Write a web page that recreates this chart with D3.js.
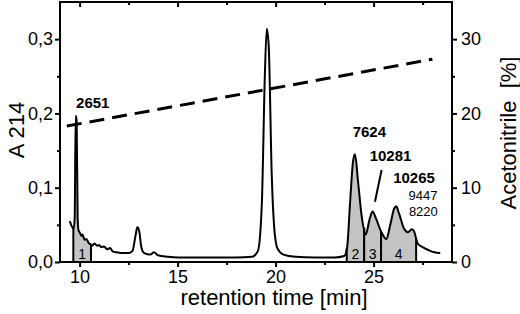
<html>
<head>
<meta charset="UTF-8">
<script src="https://d3js.org/d3.v7.min.js"></script>
<style>
  body { margin: 0; background: #fff; }
  text { font-family: "Liberation Sans", Arial, sans-serif; }
</style>
</head>
<body>
<svg id="chart" width="520" height="314"></svg>
<script>
// chromatogram trace (retention time in min, absorbance at 214 nm)
const traceTime = [9.5, 9.6, 9.7, 9.75, 9.8, 9.85, 9.9, 9.95, 10.0, 10.1, 10.15, 10.25, 10.35, 10.45, 10.55, 10.65, 10.75, 10.9, 11.0, 11.1, 11.25, 11.4, 11.55, 11.7, 11.9, 12.2, 12.5, 12.7, 12.85, 12.95, 13.05, 13.15, 13.3, 13.6, 13.8, 14.0, 14.5, 15, 16, 17, 18, 18.8, 19.1, 19.3, 19.45, 19.55, 19.65, 19.8, 19.95, 20.1, 20.4, 21, 22, 23, 23.5, 23.65, 23.8, 23.95, 24.05, 24.2, 24.4, 24.6, 24.8, 24.95, 25.1, 25.4, 25.65, 25.85, 26.05, 26.15, 26.3, 26.55, 26.75, 26.95, 27.05, 27.25, 27.5, 27.8, 28.1, 28.4];
const traceAbs = [0.055, 0.048, 0.045, 0.06, 0.197, 0.19, 0.06, 0.042, 0.04, 0.035, 0.037, 0.03, 0.031, 0.026, 0.024, 0.022, 0.025, 0.022, 0.023, 0.02, 0.021, 0.017, 0.019, 0.014, 0.013, 0.012, 0.012, 0.015, 0.035, 0.047, 0.04, 0.02, 0.012, 0.01, 0.013, 0.009, 0.007, 0.006, 0.006, 0.006, 0.006, 0.007, 0.015, 0.08, 0.25, 0.314, 0.29, 0.12, 0.04, 0.018, 0.01, 0.007, 0.006, 0.006, 0.008, 0.02, 0.08, 0.135, 0.145, 0.11, 0.06, 0.037, 0.058, 0.068, 0.06, 0.04, 0.031, 0.05, 0.072, 0.075, 0.065, 0.045, 0.04, 0.044, 0.042, 0.025, 0.02, 0.016, 0.013, 0.012];

// acetonitrile gradient (%)
const gradTime = [9.35, 28];
const gradPct = [18.3, 27.3];

// collected fractions
const fracStart = [9.68, 23.63, 24.52, 25.38];
const fracEnd = [10.58, 24.52, 25.38, 27.17];
const fracLabel = ["1", "2", "3", "4"];

// mass annotations (anchored at retention time / absorbance)
const massText = ["2651", "7624", "10281", "10265", "9447", "8220"];
const massTime = [9.82, 23.93, 24.8, 26.0, 26.78, 26.8];
const massAbs = [0.207, 0.168, 0.136, 0.106, 0.083, 0.062];
const massBold = [true, true, true, true, false, false];

const xTicks = [10, 15, 20, 25];
const xMinor = [12.5, 17.5, 22.5, 27.5];
const yTicks = [0, 0.1, 0.2, 0.3];
const yMinor = [0.05, 0.15, 0.25];
const rTicks = [0, 10, 20, 30];
const rMinor = [5, 15, 25];

const svg = d3.select("#chart");
const m = {left: 60, right: 452, top: 2, bottom: 262};

const x = d3.scaleLinear().domain([9, 29]).range([m.left, m.right]);
const y = d3.scaleLinear().domain([0, 0.35]).range([m.bottom, m.top]);
const yR = d3.scaleLinear().domain([0, 35]).range([m.bottom, m.top]);

const trace = traceTime.map((t, i) => ({t: t, a: traceAbs[i]}));

function absAt(t) {
  for (let i = 1; i < trace.length; i++) {
    if (trace[i].t >= t) {
      const p = trace[i - 1], q = trace[i];
      return p.a + (q.a - p.a) * (t - p.t) / (q.t - p.t);
    }
  }
  return trace[trace.length - 1].a;
}

// shaded fractions
fracStart.forEach((s, i) => {
  const e = fracEnd[i];
  const pts = [{t: s, a: absAt(s)}]
    .concat(trace.filter(d => d.t > s && d.t < e))
    .concat([{t: e, a: absAt(e)}]);
  svg.append("path")
     .datum(pts)
     .attr("fill", "#c4c4c4")
     .attr("d", d3.area().x(d => x(d.t)).y0(y(0)).y1(d => y(d.a)));
  [s, e].forEach(b => {
    svg.append("line")
       .attr("x1", x(b)).attr("x2", x(b))
       .attr("y1", y(0)).attr("y2", y(absAt(b)))
       .attr("stroke", "#000").attr("stroke-width", 2);
  });
  svg.append("text")
     .attr("x", x((s + e) / 2)).attr("y", 259)
     .attr("text-anchor", "middle")
     .attr("font-size", 14)
     .text(fracLabel[i]);
});

// trace line
svg.append("path")
   .datum(trace)
   .attr("fill", "none")
   .attr("stroke", "#000")
   .attr("stroke-width", 2)
   .attr("stroke-linejoin", "round")
   .attr("d", d3.line().x(d => x(d.t)).y(d => y(d.a)).curve(d3.curveMonotoneX));

// gradient line
svg.append("path")
   .datum(gradTime.map((t, i) => [t, gradPct[i]]))
   .attr("fill", "none")
   .attr("stroke", "#000")
   .attr("stroke-width", 3)
   .attr("stroke-dasharray", "15,8")
   .attr("d", d3.line().x(d => x(d[0])).y(d => yR(d[1])));

// frame
svg.append("rect")
   .attr("x", m.left).attr("y", m.top)
   .attr("width", m.right - m.left).attr("height", m.bottom - m.top)
   .attr("fill", "none").attr("stroke", "#000").attr("stroke-width", 2);

const comma = d => d3.format(".1f")(d).replace(".", ",");

function styleAxis(g) {
  g.select(".domain").remove();
  g.selectAll(".tick line").attr("stroke-width", 2);
  g.selectAll(".tick text").attr("font-size", 18).attr("font-family", "Liberation Sans, Arial, sans-serif");
}

svg.append("g").attr("transform", `translate(${m.left},0)`)
   .call(d3.axisLeft(y).tickValues(yTicks).tickFormat(comma).tickSize(5).tickPadding(2))
   .call(styleAxis);
svg.append("g").attr("transform", `translate(${m.left},0)`)
   .call(d3.axisLeft(y).tickValues(yMinor).tickFormat("").tickSize(3))
   .call(styleAxis);

svg.append("g").attr("transform", `translate(${m.right},0)`)
   .call(d3.axisRight(yR).tickValues(rTicks).tickSize(5).tickPadding(4))
   .call(styleAxis);
svg.append("g").attr("transform", `translate(${m.right},0)`)
   .call(d3.axisRight(yR).tickValues(rMinor).tickFormat("").tickSize(3))
   .call(styleAxis);

svg.append("g").attr("transform", `translate(0,${m.bottom})`)
   .call(d3.axisBottom(x).tickValues(xTicks).tickSize(5).tickPadding(3))
   .call(styleAxis);
svg.append("g").attr("transform", `translate(0,${m.bottom})`)
   .call(d3.axisBottom(x).tickValues(xMinor).tickFormat("").tickSize(3))
   .call(styleAxis);

// mirror ticks on top
svg.append("g").attr("transform", `translate(0,${m.top})`)
   .call(d3.axisBottom(x).tickValues(xTicks).tickFormat("").tickSize(5))
   .call(styleAxis);
svg.append("g").attr("transform", `translate(0,${m.top})`)
   .call(d3.axisBottom(x).tickValues(xMinor).tickFormat("").tickSize(3))
   .call(styleAxis);

// mass labels
massText.forEach((s, i) => {
  svg.append("text")
     .attr("x", x(massTime[i])).attr("y", y(massAbs[i]))
     .attr("font-size", massBold[i] ? 15 : 13)
     .attr("font-weight", massBold[i] ? "bold" : "normal")
     .text(s);
});

// leader from 10281 to peak 3
svg.append("line")
   .attr("x1", x(25.41)).attr("y1", y(0.124))
   .attr("x2", x(25.07)).attr("y2", y(0.081))
   .attr("stroke", "#000").attr("stroke-width", 2);

// axis titles
svg.append("text")
   .attr("transform", "translate(24,130) rotate(-90)")
   .attr("text-anchor", "middle")
   .attr("font-size", 22)
   .text("A 214");

svg.append("text")
   .attr("transform", "translate(516,133) rotate(-90)")
   .attr("text-anchor", "middle")
   .attr("font-size", 22)
   .attr("xml:space", "preserve")
   .text("Acetonitrile  [%]");

svg.append("text")
   .attr("x", 274).attr("y", 305)
   .attr("text-anchor", "middle")
   .attr("font-size", 22)
   .text("retention time [min]");
</script>
</body>
</html>
